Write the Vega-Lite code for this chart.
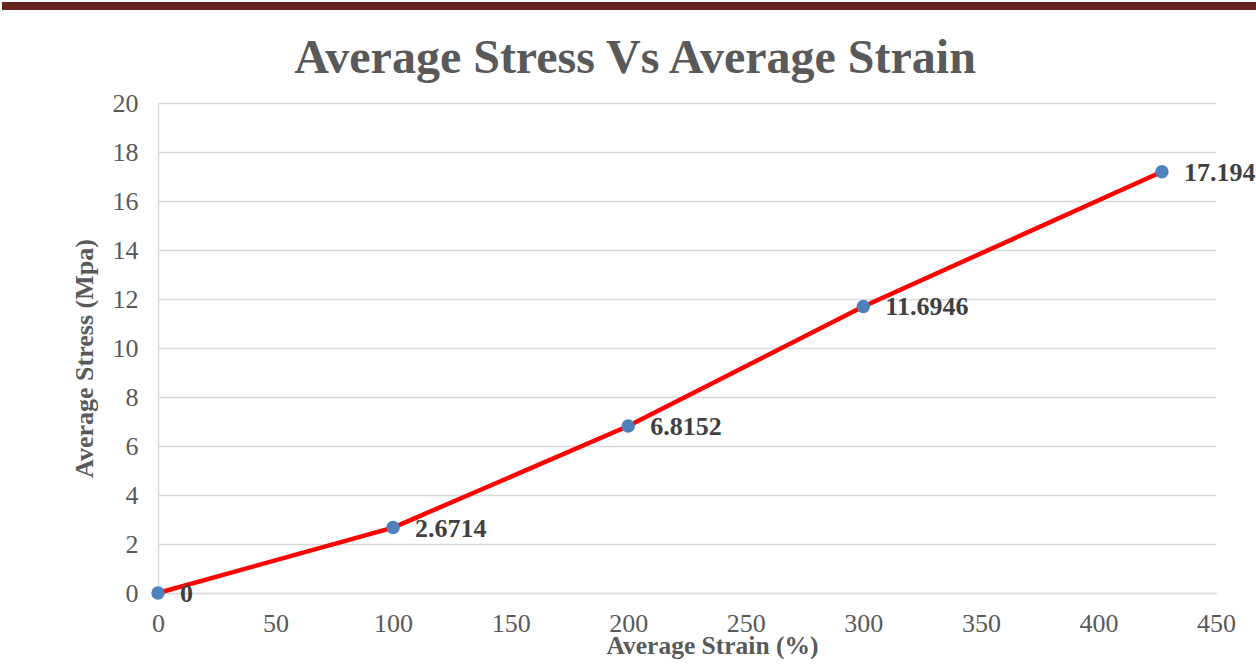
{
  "$schema": "https://vega.github.io/schema/vega-lite/v6.json",
  "padding": 0,
  "autosize": {"type": "pad"},
  "background": "white",
  "spacing": 23,
  "config": {
    "view": {"stroke": null},
    "font": "Liberation Serif"
  },
  "vconcat": [
    {
      "width": 1099,
      "height": 8,
      "data": {"values": [{"band": "header", "lo": 0, "hi": 1}]},
      "mark": {"type": "rect", "color": "#66231f"},
      "encoding": {
        "y": {
          "field": "lo",
          "type": "quantitative",
          "scale": {"domain": [0, 1], "nice": false},
          "axis": {
            "values": [0.5],
            "title": null,
            "labels": false,
            "domain": false,
            "grid": false,
            "ticks": true,
            "tickSize": 152,
            "tickWidth": 8,
            "tickColor": "#66231f",
            "tickCap": "square",
            "translate": 0
          }
        },
        "y2": {"field": "hi"}
      }
    },
    {
      "width": 1058,
      "height": 490,
      "title": {
        "text": "Average Stress Vs Average Strain",
        "font": "Liberation Serif",
        "fontSize": 48,
        "fontWeight": "bold",
        "color": "#595959",
        "anchor": "middle",
        "frame": "group",
        "dx": -52,
        "offset": 7
      },
      "data": {
        "values": [
          {"strain": 0, "stress": 0},
          {"strain": 100, "stress": 2.6714},
          {"strain": 200, "stress": 6.8152},
          {"strain": 300, "stress": 11.6946},
          {"strain": 427, "stress": 17.194}
        ]
      },
      "encoding": {
        "x": {
          "field": "strain",
          "type": "quantitative",
          "scale": {"domain": [0, 450], "nice": false, "zero": true},
          "axis": {
            "values": [0, 50, 100, 150, 200, 250, 300, 350, 400, 450],
            "title": "Average Strain (%)",
            "titleFont": "Liberation Serif",
            "titleFontSize": 25.5,
            "titleFontWeight": "bold",
            "titleColor": "#595959",
            "titlePadding": -3,
            "titleX": 554,
            "labelFont": "Liberation Serif",
            "labelFontSize": 26,
            "labelColor": "#595959",
            "labelPadding": 17,
            "labelFlush": false,
            "ticks": false,
            "tickSize": 0,
            "grid": false,
            "domain": true,
            "domainColor": "#d9d9d9",
            "domainWidth": 1.5
          }
        },
        "y": {
          "field": "stress",
          "type": "quantitative",
          "scale": {"domain": [0, 20], "nice": false},
          "axis": {
            "values": [0, 2, 4, 6, 8, 10, 12, 14, 16, 18, 20],
            "title": "Average Stress (Mpa)",
            "titleFont": "Liberation Serif",
            "titleFontSize": 26,
            "titleFontWeight": "bold",
            "titleColor": "#595959",
            "titlePadding": 15,
            "titleY": 255,
            "labelFont": "Liberation Serif",
            "labelFontSize": 26,
            "labelColor": "#595959",
            "labelPadding": 20,
            "labelFlush": false,
            "ticks": false,
            "tickSize": 0,
            "grid": true,
            "gridColor": "#d9d9d9",
            "gridWidth": 1.5,
            "domain": true,
            "domainColor": "#d9d9d9",
            "domainWidth": 1.5
          }
        }
      },
      "layer": [
        {
          "mark": {"type": "line", "color": "#ff0000", "strokeWidth": 4.5, "clip": false}
        },
        {
          "mark": {"type": "point", "filled": true, "color": "#4f81bd", "size": 180, "opacity": 1, "clip": false}
        },
        {
          "mark": {
            "type": "text",
            "align": "left",
            "baseline": "middle",
            "dx": 22,
            "dy": 1,
            "font": "Liberation Serif",
            "fontSize": 26,
            "fontWeight": "bold",
            "color": "#404040",
            "clip": false
          },
          "encoding": {
            "text": {"field": "stress", "type": "quantitative"}
          }
        }
      ]
    }
  ]
}
